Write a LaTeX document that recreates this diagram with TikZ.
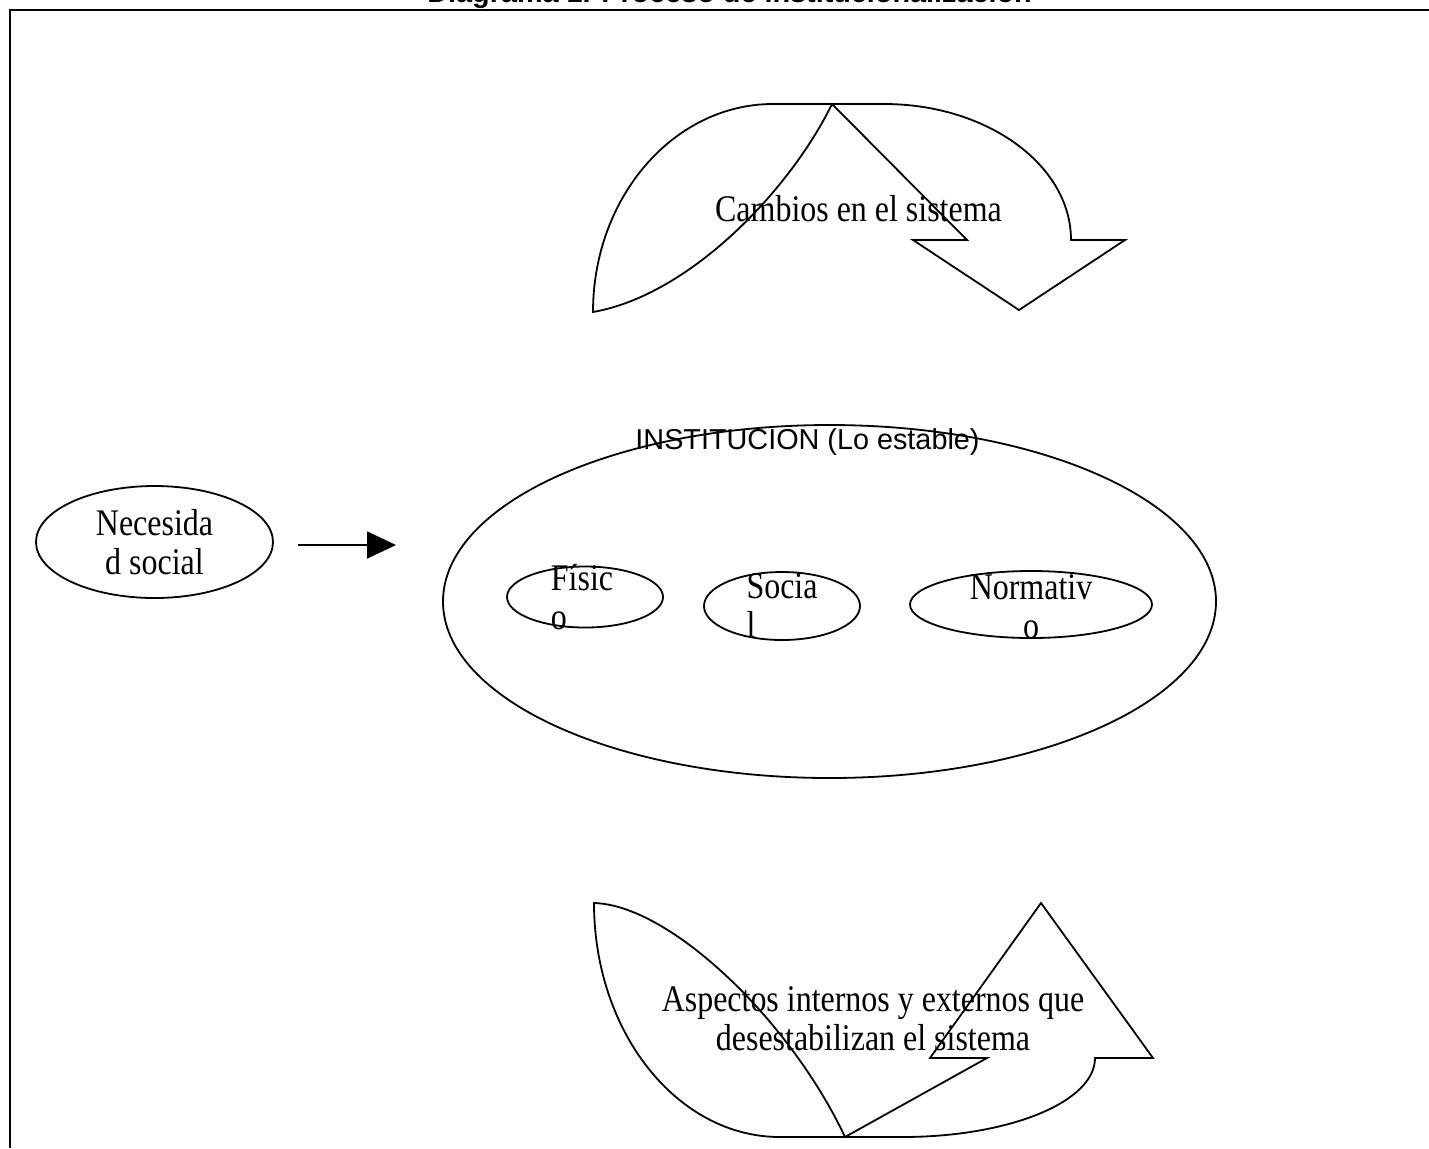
\documentclass[tikz,border=0pt]{standalone}
\usepackage{fontspec}
\setmainfont[FakeStretch=0.85]{Liberation Serif}
\newfontfamily\arial{Liberation Sans}
\usetikzlibrary{arrows.meta,shapes.geometric}

\tikzset{
  elipse/.style={draw, ellipse, line width=0.9pt, inner sep=0pt},
  texto/.style={font=\fontsize{18.8}{19.5}\selectfont, inner sep=0pt},
  sans/.style={font=\arial\fontsize{14.4}{17}\selectfont, inner sep=0pt},
  forma/.style={draw, line width=0.9pt, line join=miter},
}

\begin{document}
\begin{tikzpicture}[x=0.5pt, y=-0.5pt]
  \useasboundingbox (0,0) rectangle (1429,1148);

  % titulo (cortado por arriba)
  \node[sans, font=\arial\bfseries\fontsize{14.4}{17}\selectfont, anchor=base west] (titulo) at (427,2)
    {Diagrama 1. Proceso de institucionalización};

  % marco
  \draw[line width=1pt] (10,1148) -- (10,10) -- (1429,10);

  % flecha curva de arriba
  \draw[forma] (593,312) .. controls (593,197) and (674,104) .. (773,104) -- (884,104)
    .. controls (987,104) and (1071,165) .. (1071,240) -- (1125,240) -- (1019,310)
    -- (913,240) -- (967,240) -- (832,104)
    .. controls (790,190) and (690,295) .. cycle;

  % flecha curva de abajo
  \draw[forma] (594,903) .. controls (594,1032) and (677,1137) .. (780,1137) -- (902,1137)
    .. controls (1009,1137) and (1095,1102) .. (1095,1058) -- (1153,1058) -- (1041,903)
    -- (930,1058) -- (987,1058) -- (845,1137)
    .. controls (790,1020) and (670,905) .. cycle;

  % elipses
  \node[elipse, minimum width=118.5pt, minimum height=56pt] (nec) at (154.5,542) {};
  \node[elipse, minimum width=386.5pt, minimum height=176.5pt] (inst) at (829.5,601.5) {};
  \node[elipse, minimum width=78pt, minimum height=30.5pt] (fis) at (585,597) {};
  \node[elipse, minimum width=78pt, minimum height=34pt] (soc) at (782,606) {};
  \node[elipse, minimum width=121pt, minimum height=33.5pt] (nor) at (1031,604.5) {};

  % textos
  \node[texto, align=center] (necT) at (nec) {Necesida\\d social};
  \node[sans, anchor=base] (instT) at (807.5,449) {INSTITUCION (Lo estable)};
  \node[texto, align=left] (fisT) at ([xshift=-1.5pt]fis) {Físic\\o};
  \node[texto, align=left] (socT) at (soc) {Socia\\l};
  \node[texto, align=center] (norT) at ([yshift=-1pt]nor) {Normativ\\o};
  \node[texto, anchor=base] (cambios) at (858.5,221) {Cambios en el sistema};
  \node[texto, align=center] (aspectos) at (873,1019)
    {Aspectos internos y externos que\\desestabilizan el sistema};

  % flecha hacia la institucion
  \coordinate (fin) at (396,545);
  \draw[line width=0.9pt, -{Triangle[length=14.5pt, width=13.5pt]}]
    ([xshift=12pt, yshift=-1.5pt]nec.east) -- (fin);

\end{tikzpicture}
\end{document}
